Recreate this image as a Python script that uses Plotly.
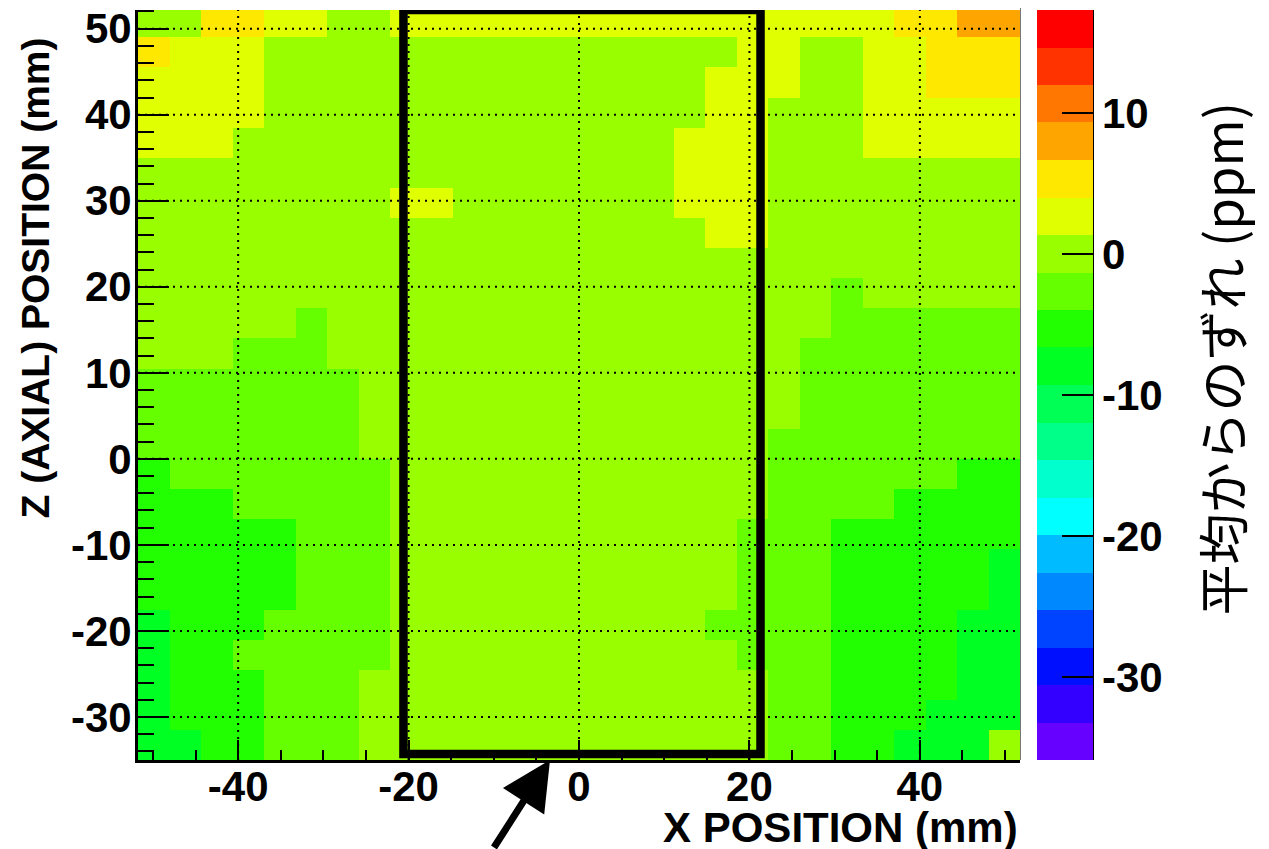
import plotly.graph_objects as go

# ---------------- data ----------------
# bin geometry (mm)
x_min_mm, x_max_mm, n_x = -51.75, 51.75, 28
y_min_mm, y_bin_mm, n_y = -35.0, 3.5, 25
y_axis_top_mm = 52.17

x_tick_vals = [-40, -20, 0, 20, 40]
x_tick_text = ["-40", "-20", "0", "20", "40"]
y_tick_vals = [-30, -20, -10, 0, 10, 20, 30, 40, 50]
y_tick_text = ["-30", "-20", "-10", "0", "10", "20", "30", "40", "50"]
cb_tick_vals = [-30, -20, -10, 0, 10]
cb_tick_text = ["-30", "-20", "-10", "0", "10"]

# colour levels of the palette (bottom -> top), 20 bands
cb_min, cb_max = -35.9, 17.3
palette = ["#6600FF", "#3300FF", "#0010FF", "#0044FF", "#0088FF",
           "#00BBFF", "#00FFFF", "#00FFCC", "#00FF88", "#00FF55",
           "#00FF22", "#22FF00", "#66FF00", "#99FF00", "#E0FF00",
           "#FFE800", "#FFA500", "#FF7700", "#FF3300", "#FF0000"]

# deviation from mean (ppm), one row per Z bin, top row (z~50.75) first,
# columns from x=-50 to x=+50
z_r00 = [0, 0, 5.3, 5.3, 2.7, 2.7, 0,   0, 2.7, 2.7, 2.7, 2.7, 2.7, 2.7,   2.7, 2.7, 2.7, 2.7, 2.7, 2.7, 2.7,   2.7, 2.7, 2.7, 5.3, 5.3, 8, 8]
z_r01 = [5.3, 2.7, 2.7, 2.7, 0, 0, 0,   0, 0, 0, 0, 0, 0, 0,   0, 0, 0, 0, 0, 2.7, 2.7,   0, 0, 2.7, 2.7, 5.3, 5.3, 5.3]
z_r02 = [2.7, 2.7, 2.7, 2.7, 0, 0, 0,   0, 0, 0, 0, 0, 0, 0,   0, 0, 0, 0, 2.7, 2.7, 2.7,   0, 0, 2.7, 2.7, 5.3, 5.3, 5.3]
z_r03 = [2.7, 2.7, 2.7, 2.7, 0, 0, 0,   0, 0, 0, 0, 0, 0, 0,   0, 0, 0, 0, 2.7, 2.7, 0,   0, 0, 2.7, 2.7, 2.7, 2.7, 2.7]
z_r04 = [2.7, 2.7, 2.7, 0, 0, 0, 0,   0, 0, 0, 0, 0, 0, 0,   0, 0, 0, 2.7, 2.7, 2.7, 0,   0, 0, 2.7, 2.7, 2.7, 2.7, 2.7]
z_r05 = [0, 0, 0, 0, 0, 0, 0,   0, 0, 0, 0, 0, 0, 0,   0, 0, 0, 2.7, 2.7, 2.7, 0,   0, 0, 0, 0, 0, 0, 0]
z_r06 = [0, 0, 0, 0, 0, 0, 0,   0, 2.7, 2.7, 0, 0, 0, 0,   0, 0, 0, 2.7, 2.7, 2.7, 0,   0, 0, 0, 0, 0, 0, 0]
z_r07 = [0, 0, 0, 0, 0, 0, 0,   0, 0, 0, 0, 0, 0, 0,   0, 0, 0, 0, 2.7, 2.7, 0,   0, 0, 0, 0, 0, 0, 0]
z_r08 = [0, 0, 0, 0, 0, 0, 0,   0, 0, 0, 0, 0, 0, 0,   0, 0, 0, 0, 0, 0, 0,   0, 0, 0, 0, 0, 0, 0]
z_r09 = [0, 0, 0, 0, 0, 0, 0,   0, 0, 0, 0, 0, 0, 0,   0, 0, 0, 0, 0, 0, 0,   0, -2.7, 0, 0, 0, 0, 0]
z_r10 = [0, 0, 0, 0, 0, -2.7, 0,   0, 0, 0, 0, 0, 0, 0,   0, 0, 0, 0, 0, 0, 0,   0, -2.7, -2.7, -2.7, -2.7, -2.7, -2.7]
z_r11 = [0, 0, 0, -2.7, -2.7, -2.7, 0,   0, 0, 0, 0, 0, 0, 0,   0, 0, 0, 0, 0, 0, 0,   -2.7, -2.7, -2.7, -2.7, -2.7, -2.7, -2.7]
z_r12 = [-2.7, -2.7, -2.7, -2.7, -2.7, -2.7, -2.7,   0, 0, 0, 0, 0, 0, 0,   0, 0, 0, 0, 0, 0, 0,   -2.7, -2.7, -2.7, -2.7, -2.7, -2.7, -2.7]
z_r13 = [-2.7, -2.7, -2.7, -2.7, -2.7, -2.7, -2.7,   0, 0, 0, 0, 0, 0, 0,   0, 0, 0, 0, 0, 0, 0,   -2.7, -2.7, -2.7, -2.7, -2.7, -2.7, -2.7]
z_r14 = [-2.7, -2.7, -2.7, -2.7, -2.7, -2.7, -2.7,   0, 0, 0, 0, 0, 0, 0,   0, 0, 0, 0, 0, 0, -2.7,   -2.7, -2.7, -2.7, -2.7, -2.7, -2.7, -2.7]
z_r15 = [-5.3, -2.7, -2.7, -2.7, -2.7, -2.7, -2.7,   -2.7, 0, 0, 0, 0, 0, 0,   0, 0, 0, 0, 0, 0, -2.7,   -2.7, -2.7, -2.7, -2.7, -2.7, -5.3, -5.3]
z_r16 = [-5.3, -5.3, -5.3, -2.7, -2.7, -2.7, -2.7,   -2.7, 0, 0, 0, 0, 0, 0,   0, 0, 0, 0, 0, 0, -2.7,   -2.7, -2.7, -2.7, -5.3, -5.3, -5.3, -5.3]
z_r17 = [-5.3, -5.3, -5.3, -5.3, -5.3, -2.7, -2.7,   -2.7, 0, 0, 0, 0, 0, 0,   0, 0, 0, 0, 0, -2.7, -2.7,   -2.7, -5.3, -5.3, -5.3, -5.3, -5.3, -5.3]
z_r18 = [-5.3, -5.3, -5.3, -5.3, -5.3, -2.7, -2.7,   -2.7, 0, 0, 0, 0, 0, 0,   0, 0, 0, 0, 0, -2.7, -2.7,   -2.7, -5.3, -5.3, -5.3, -5.3, -5.3, -8]
z_r19 = [-5.3, -5.3, -5.3, -5.3, -5.3, -2.7, -2.7,   -2.7, 0, 0, 0, 0, 0, 0,   0, 0, 0, 0, 0, -2.7, -2.7,   -2.7, -5.3, -5.3, -5.3, -5.3, -5.3, -8]
z_r20 = [-8, -5.3, -5.3, -5.3, -2.7, -2.7, -2.7,   -2.7, 0, 0, 0, 0, 0, 0,   0, 0, 0, 0, -2.7, -2.7, -2.7,   -2.7, -5.3, -5.3, -5.3, -5.3, -8, -8]
z_r21 = [-8, -5.3, -5.3, -2.7, -2.7, -2.7, -2.7,   -2.7, 0, 0, 0, 0, 0, 0,   0, 0, 0, 0, 0, -2.7, -2.7,   -2.7, -5.3, -5.3, -5.3, -5.3, -8, -8]
z_r22 = [-8, -5.3, -5.3, -5.3, -2.7, -2.7, -2.7,   0, 0, 0, 0, 0, 0, 0,   0, 0, 0, 0, 0, 0, -2.7,   -2.7, -5.3, -5.3, -5.3, -5.3, -8, -8]
z_r23 = [-8, -5.3, -5.3, -5.3, -2.7, -2.7, -2.7,   0, 0, 0, 0, 0, 0, 0,   0, 0, 0, 0, 0, 0, -2.7,   -2.7, -5.3, -5.3, -5.3, -8, -8, -8]
z_r24 = [-8, -8, -5.3, -5.3, -2.7, -2.7, -2.7,   0, 0, 0, 0, 0, 0, 0,   0, 0, 0, 0, 0, 0, -2.7,   -2.7, -5.3, -5.3, -8, -8, -8, 0]

z_rows_top_first = [z_r00, z_r01, z_r02, z_r03, z_r04, z_r05, z_r06, z_r07, z_r08,
                    z_r09, z_r10, z_r11, z_r12, z_r13, z_r14, z_r15, z_r16, z_r17,
                    z_r18, z_r19, z_r20, z_r21, z_r22, z_r23, z_r24]
for r in z_rows_top_first:
    assert len(r) == n_x, len(r)

# region outline (mm)
box_x0, box_x1, box_y0 = -20.6, 21.3, -34.3

# ---------------- figure ----------------
x_bin = (x_max_mm - x_min_mm) / n_x
x_edges = [x_min_mm + i * x_bin for i in range(n_x + 1)]
y_edges = [y_min_mm + k * y_bin_mm for k in range(n_y + 1)]
z_bottom_first = z_rows_top_first[::-1]

colorscale = []
nb = len(palette)
for i, c in enumerate(palette):
    colorscale.append([i / nb, c])
    colorscale.append([(i + 1) / nb, c])

OFF = 8  # page body margin of the browser
W, H = 1269 - OFF, 849 - OFF
PLOT_L, PLOT_R, PLOT_T, PLOT_B = 138, 1020, 10, 760   # in reference pixels
L, T = PLOT_L - OFF, PLOT_T - OFF
R, B = W - (PLOT_R - OFF), H - (PLOT_B - OFF)
PW, PH = PLOT_R - PLOT_L, PLOT_B - PLOT_T

def px_x(p):
    return (p - PLOT_L) / PW

def px_y(p):
    return (PLOT_B - p) / PH

FONT = "Liberation Sans, Arial, Helvetica, sans-serif"
tick_font = dict(family=FONT, size=42, color="black", weight="bold")

fig = go.Figure()
fig.add_trace(go.Heatmap(
    z=z_bottom_first, x=x_edges, y=y_edges,
    zmin=cb_min, zmax=cb_max, colorscale=colorscale,
    hoverinfo="skip",
    colorbar=dict(
        x=px_x(1037), xanchor="left", y=0.5, yanchor="middle",
        len=1.0, lenmode="fraction", thickness=56, thicknessmode="pixels",
        xpad=0, ypad=0, outlinewidth=0,
        tickmode="array", tickvals=cb_tick_vals, ticktext=cb_tick_text,
        ticks="inside", ticklen=31, tickwidth=2, tickcolor="black",
        tickfont=tick_font,
    ),
))

grid_line = dict(color="black", width=2, dash="2px,5px")
shapes = []
for xv in x_tick_vals:
    shapes.append(dict(type="line", xref="x", yref="y", x0=xv, x1=xv,
                       y0=y_min_mm, y1=y_axis_top_mm, layer="above", line=grid_line))
for yv in y_tick_vals:
    shapes.append(dict(type="line", xref="x", yref="y", x0=x_min_mm, x1=x_max_mm,
                       y0=yv, y1=yv, layer="above", line=grid_line))
shapes.append(dict(type="rect", xref="x", yref="y", x0=box_x0, x1=box_x1,
                   y0=box_y0, y1=y_axis_top_mm, layer="above",
                   line=dict(color="black", width=8.5), fillcolor="rgba(0,0,0,0)"))
# colour-bar axis line
shapes.append(dict(type="line", xref="paper", yref="paper", x0=px_x(1093), x1=px_x(1093),
                   y0=0, y1=1, line=dict(color="black", width=2)))
# thin grey frame at the top right
shapes.append(dict(type="line", xref="paper", yref="paper", x0=px_x(810), x1=px_x(1020),
                   y0=px_y(6), y1=px_y(6), line=dict(color="#777777", width=1)))
shapes.append(dict(type="line", xref="paper", yref="paper", x0=px_x(1020.5), x1=px_x(1020.5),
                   y0=px_y(6), y1=0, line=dict(color="#777777", width=1)))

fig.update_layout(
    width=W, height=H, margin=dict(l=L, r=R, t=T, b=B, pad=0, autoexpand=False),
    paper_bgcolor="white", plot_bgcolor="white",
    shapes=shapes, showlegend=False,
    xaxis=dict(range=[x_min_mm, x_max_mm], showgrid=False, zeroline=False,
               showline=True, linecolor="black", linewidth=3, mirror=False,
               ticks="inside", ticklen=20, tickwidth=2, tickcolor="black",
               tickmode="array", tickvals=x_tick_vals, ticktext=x_tick_text,
               tickfont=tick_font, ticklabelstandoff=-12, ticklabeloverflow="allow",
               layer="above traces", automargin=False,
               minor=dict(tickmode="linear", tick0=0, dtick=5, ticks="inside",
                          ticklen=10, tickwidth=2, tickcolor="black", showgrid=False)),
    yaxis=dict(range=[y_min_mm, y_axis_top_mm], showgrid=False, zeroline=False,
               showline=True, linecolor="black", linewidth=3, mirror=False,
               ticks="inside", ticklen=31, tickwidth=2, tickcolor="black",
               tickmode="array", tickvals=y_tick_vals, ticktext=y_tick_text,
               tickfont=tick_font, ticklabelstandoff=-5, ticklabeloverflow="allow",
               layer="above traces", automargin=False,
               minor=dict(tickmode="linear", tick0=0, dtick=2, ticks="inside",
                          ticklen=16, tickwidth=2, tickcolor="black", showgrid=False)),
    annotations=[
        dict(text="X POSITION (mm)", xref="paper", yref="paper",
             x=1.0, xanchor="right", y=px_y(827), yanchor="middle",
             showarrow=False, font=dict(family=FONT, size=42, color="black", weight="bold")),
        dict(text="Z (AXIAL) POSITION (mm)", xref="paper", yref="paper",
             x=px_x(35), xanchor="center", y=px_y(36), yanchor="top",
             textangle=-90, showarrow=False,
             font=dict(family=FONT, size=39, color="black", weight="bold")),
        dict(text="平均からのずれ (ppm)", xref="paper", yref="paper",
             x=px_x(1220), xanchor="center", y=px_y(101), yanchor="top",
             textangle=-90, showarrow=False,
             font=dict(family="Noto Sans CJK JP, Liberation Sans, sans-serif",
                       size=51, color="black")),
        dict(text="", xref="paper", yref="paper", x=px_x(550), y=px_y(760),
             ax=-57, ay=89, axref="pixel", ayref="pixel",
             showarrow=True, arrowhead=2, arrowsize=1.4, arrowwidth=7,
             arrowcolor="black"),
    ],
)

fig.write_html("out.html")
